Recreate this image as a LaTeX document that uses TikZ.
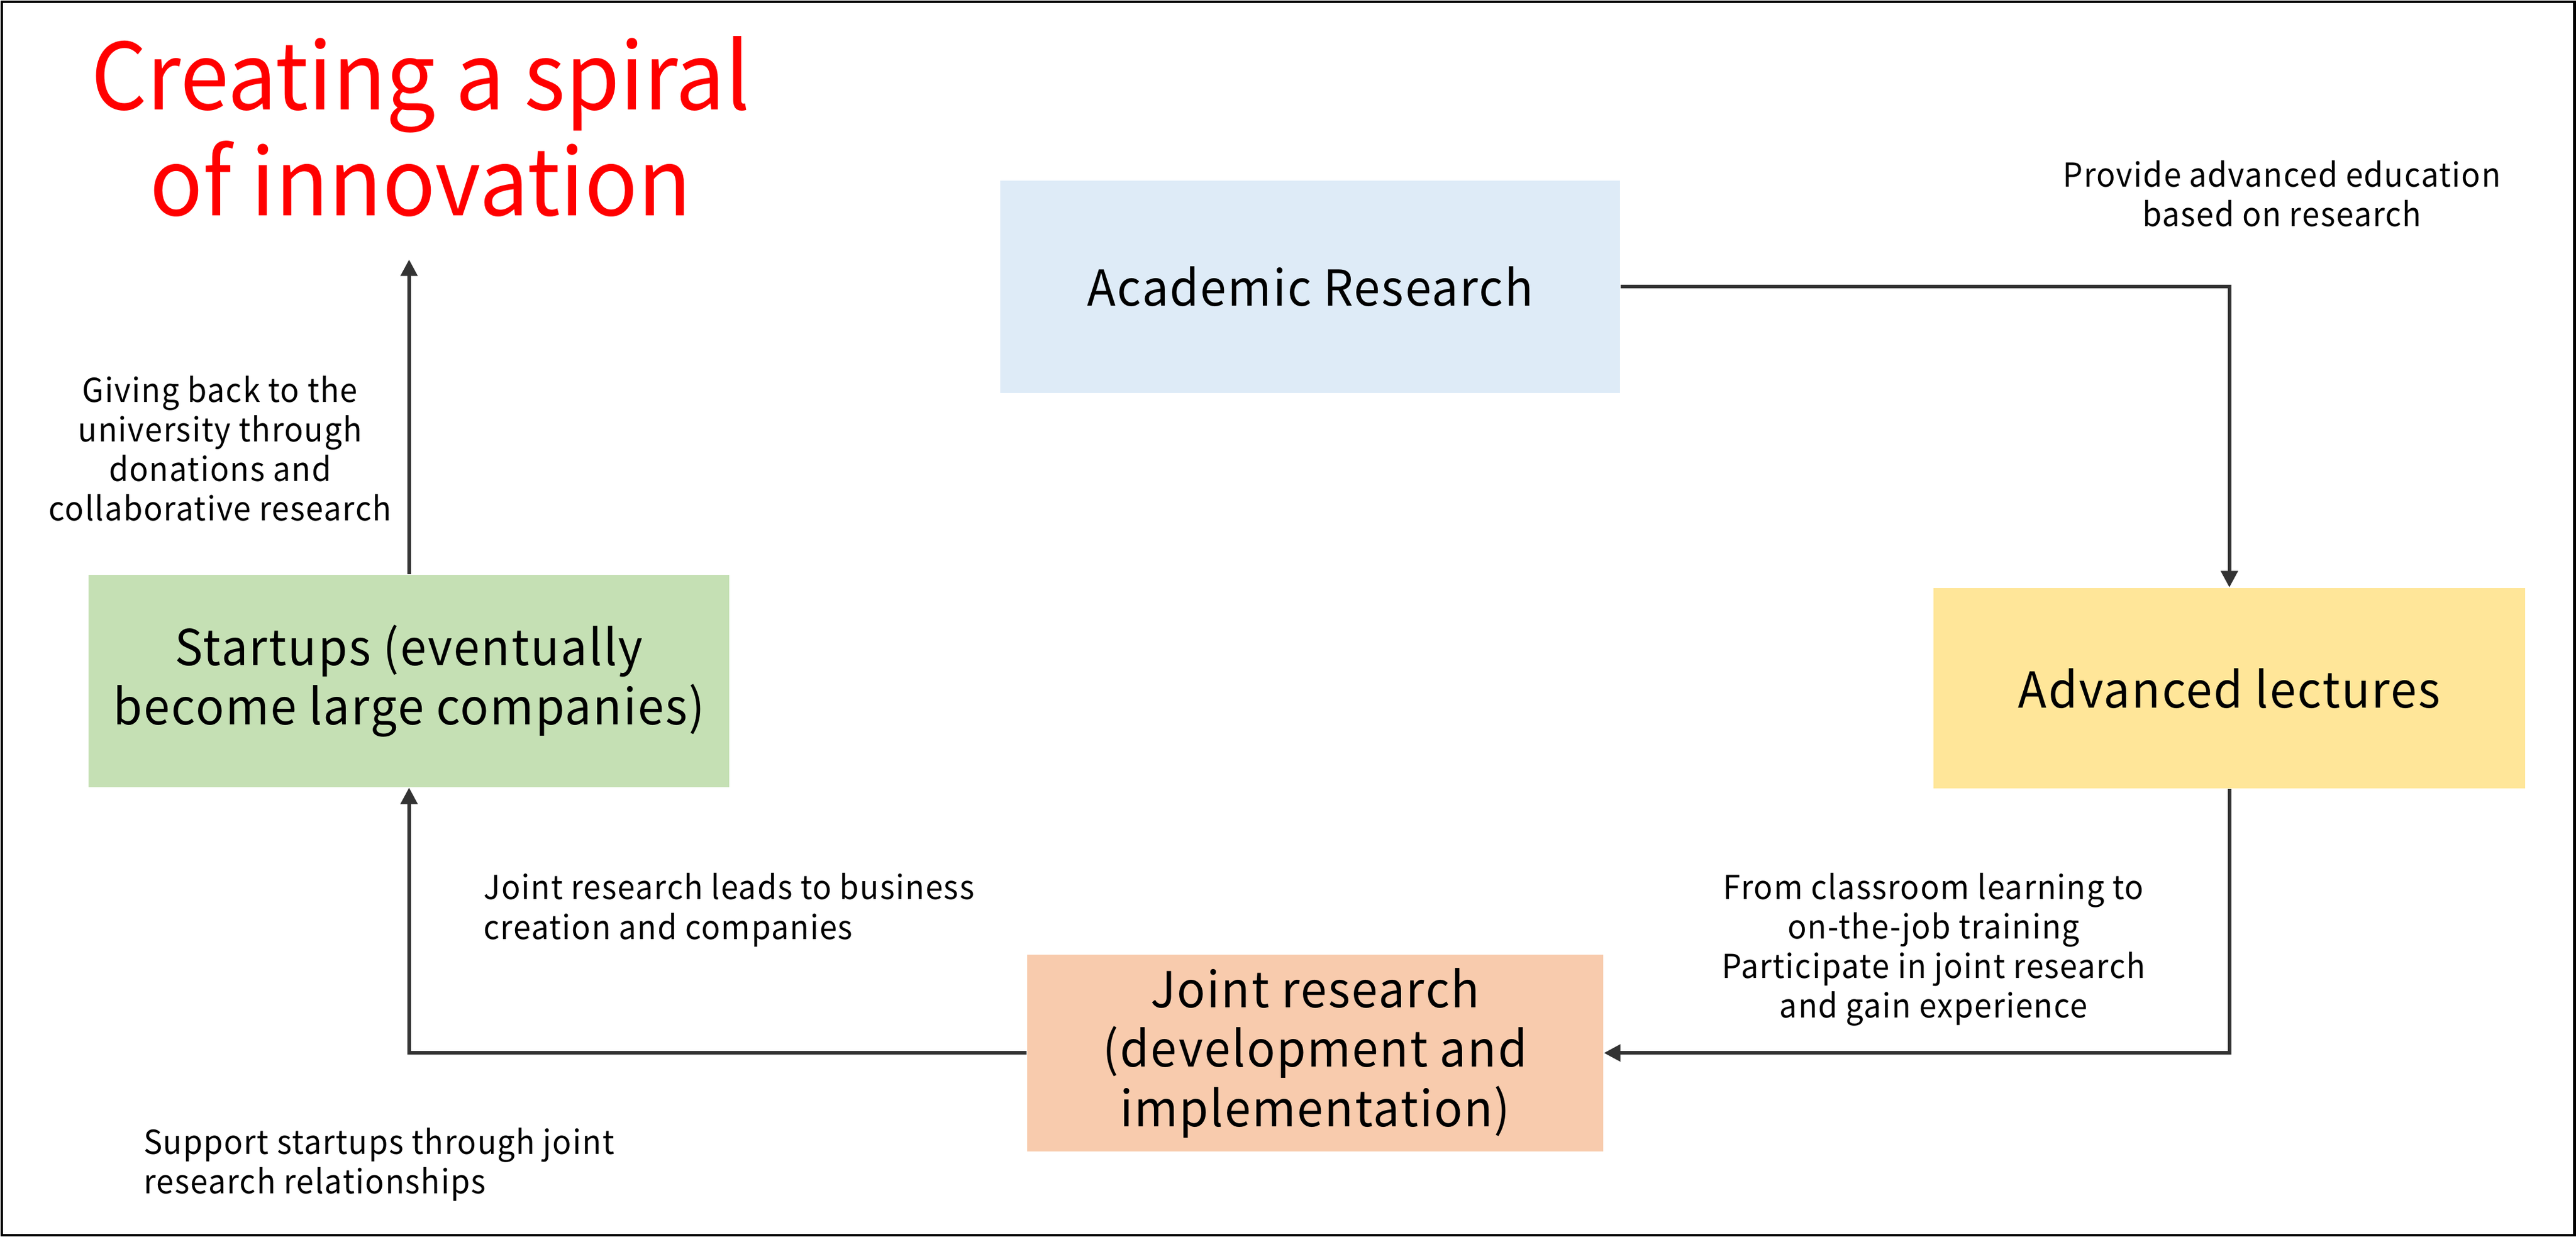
\documentclass[tikz,border=0pt]{standalone}
\usepackage{fontspec}
\setmainfont{Noto Sans CJK JP}[FakeStretch=0.95,LetterSpace=3]
\newfontfamily\titlefont{Noto Sans CJK JP}[FakeStretch=0.95]
\usetikzlibrary{arrows.meta}
\definecolor{researchblue}{HTML}{DEEBF7}
\definecolor{lectureyellow}{HTML}{FFE699}
\definecolor{jointorange}{HTML}{F8CBAD}
\definecolor{startupgreen}{HTML}{C5E0B4}
\begin{document}
\begin{tikzpicture}[x=0.0175cm,y=-0.0175cm]

\tikzstyle{box}=[inner sep=0pt, align=center, font=\fontsize{15}{18}\selectfont]
\tikzstyle{note}=[inner sep=0pt, align=center, font=\fontsize{10}{12}\selectfont]
\tikzstyle{flow}=[draw=black!80, line width=1.1pt, -{Triangle[length=5pt,width=5pt]}]

\useasboundingbox (0,0) rectangle (1568,753);
\draw[line width=0.8pt] (1,1) rectangle (1567,752);

% title
\node[align=center, text=red, font=\titlefont\fontsize{28}{32}\selectfont] (title) at (256,77) {Creating a spiral\\of innovation};
\coordinate (apex) at (249,158);

% the four stages
\node[box, fill=researchblue, minimum width=6.6cm, minimum height=2.26cm] (academic) at (797.5,174.5) {Academic Research};
\node[box, fill=lectureyellow, minimum width=6.3cm, minimum height=2.135cm] (advanced) at (1357,419) {Advanced lectures};
\node[box, fill=jointorange, minimum width=6.14cm, minimum height=2.1cm] (joint) at (800.5,641) {Joint research\\(development and\\implementation)};
\node[box, fill=startupgreen, minimum width=6.825cm, minimum height=2.26cm] (startups) at (249,414.5) {Startups (eventually\\become large companies)};

% labels
\node[note] (educate) at (1389,118) {Provide advanced education\\based on research};
\node[note] (giveback) at (134,273) {Giving back to the\\university through\\donations and\\collaborative research};
\node[note, align=left, anchor=west] (business) at (294,554) {Joint research leads to business\\creation and companies};
\node[note] (training) at (1177,578) {From classroom learning to\\on-the-job training\\Participate in joint research\\and gain experience};
\node[note, align=left, anchor=west] (support) at (87,709) {Support startups through joint\\research relationships};

% connectors
\draw[flow] (academic.east) -| (advanced.north);
\draw[flow] (advanced.south) |- (joint.east);
\draw[flow] (joint.west) -| (startups.south);
\draw[flow] (startups.north) -- (apex);
\end{tikzpicture}
\end{document}
